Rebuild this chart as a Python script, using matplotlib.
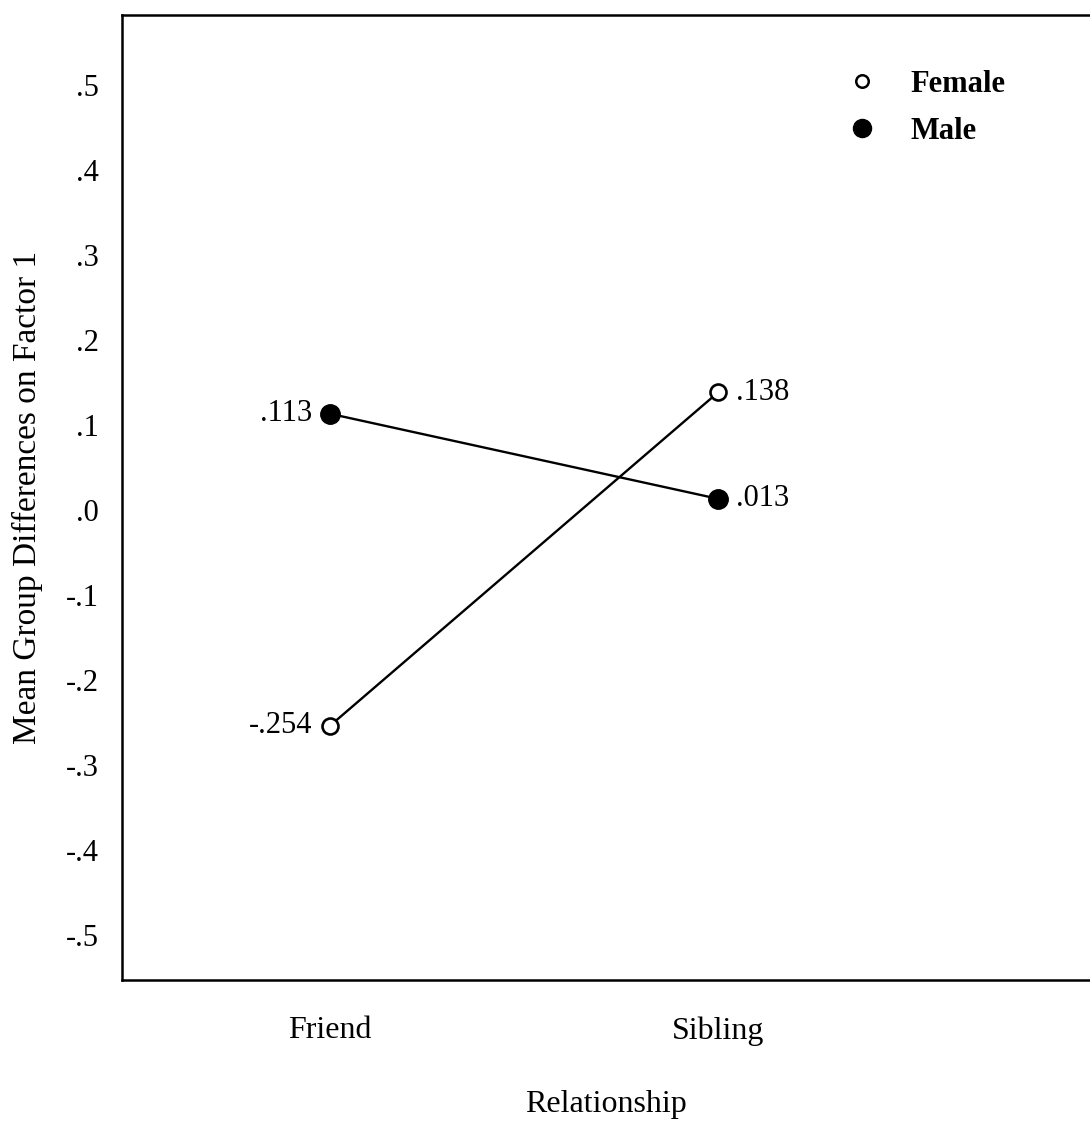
import matplotlib
matplotlib.use("Agg")
import matplotlib.pyplot as plt
from matplotlib.lines import Line2D

# data
relationship = ["Friend", "Sibling"]
female = [-0.254, 0.138]
male = [0.113, 0.013]
female_labels = ["-.254", ".138"]
male_labels = [".113", ".013"]
yticks = [0.5, 0.4, 0.3, 0.2, 0.1, 0.0, -0.1, -0.2, -0.3, -0.4, -0.5]
ytick_labels = [".5", ".4", ".3", ".2", ".1", ".0", "-.1", "-.2", "-.3", "-.4", "-.5"]

plt.rcParams["font.family"] = ["Liberation Serif", "DejaVu Serif"]

fig = plt.figure(figsize=(10.9, 11.39), dpi=100)
ax = fig.add_axes([122 / 1090, 1 - 980 / 1139, 1 - 122 / 1090, (980 - 15) / 1139])

x = list(range(len(relationship)))
ax.plot(x, female, color="black", lw=1.7, marker="o", ms=11.5,
        mfc="white", mec="black", mew=1.9, zorder=3)
ax.plot(x, male, color="black", lw=1.7, marker="o", ms=14,
        mfc="black", mec="black", zorder=3)

# value labels: left point labelled on the left, right point on the right
for vals, labs in [(female, female_labels), (male, male_labels)]:
    for xi, yi, lab in zip(x, vals, labs):
        if xi == 0:
            ax.annotate(lab, (xi, yi), xytext=(-13, 0), textcoords="offset points",
                        ha="right", va="center", fontsize=22)
        else:
            ax.annotate(lab, (xi, yi), xytext=(13, 0), textcoords="offset points",
                        ha="left", va="center", fontsize=22)

ax.set_xlim(-0.536, 1.959)
ax.set_ylim(-0.553, 0.582)
ax.set_xticks(x)
ax.set_xticklabels(relationship, fontsize=23)
ax.set_yticks(yticks)
ax.set_yticklabels(ytick_labels, fontsize=22)
ax.tick_params(axis="x", length=0, pad=26)
ax.tick_params(axis="y", length=0, pad=17)
ax.set_xlabel("Relationship", fontsize=23, labelpad=32)
ax.set_ylabel("Mean Group Differences on Factor 1", fontsize=24, labelpad=16)

for side in ["left", "top", "bottom"]:
    ax.spines[side].set_linewidth(1.8)
ax.spines["right"].set_visible(False)

handles = [
    Line2D([], [], ls="none", marker="o", ms=9, mfc="white", mec="black", mew=1.8),
    Line2D([], [], ls="none", marker="o", ms=13, mfc="black", mec="black"),
]
leg = ax.legend(handles, ["Female", "Male"], loc="upper left",
                bbox_to_anchor=(0.72, 0.972), frameon=False,
                prop={"size": 22, "weight": "bold"},
                handlelength=1.0, handletextpad=1.08, labelspacing=0.6)

fig.savefig("out.png", dpi=100)
